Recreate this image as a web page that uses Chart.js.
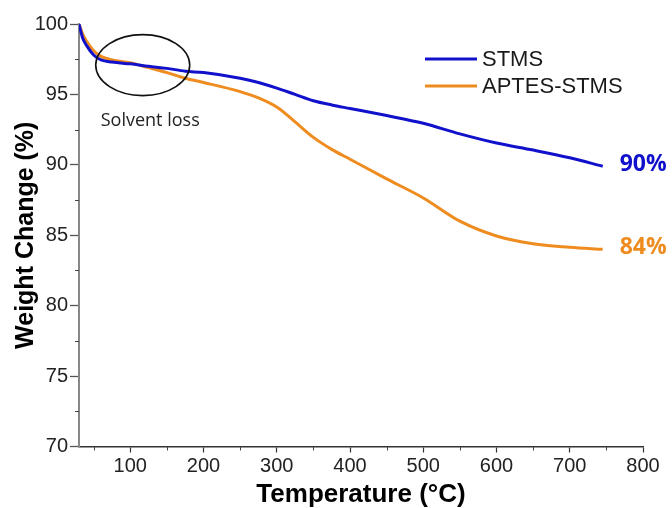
<!DOCTYPE html>
<html>
<head>
<meta charset="utf-8">
<script src="https://cdn.jsdelivr.net/npm/chart.js@4.4.1/dist/chart.umd.min.js"></script>
<style>
  html, body { margin: 0; padding: 0; background: #fff; }
  #wrap { width: 672px; height: 508px; }
</style>
</head>
<body>
<div id="wrap"><canvas id="chart" width="672" height="508"></canvas></div>
<script>
// temperature (°C) at each reading
const temps = [30, 35, 40, 50, 60, 75, 100, 125, 150, 175, 200, 250, 275, 300, 325, 350, 375, 400, 450, 500, 550, 600, 650, 700, 745];
const stms = [100, 99.0, 98.5, 97.8, 97.45, 97.3, 97.17, 97.0, 96.85, 96.65, 96.55, 96.15, 95.85, 95.45, 95.0, 94.55, 94.25, 94.0, 93.5, 92.95, 92.2, 91.55, 91.05, 90.5, 89.9];
const aptesStms = [100, 99.3, 98.8, 98.1, 97.7, 97.45, 97.25, 96.9, 96.55, 96.15, 95.85, 95.2, 94.75, 94.1, 93.05, 91.95, 91.1, 90.4, 89.0, 87.65, 86.0, 84.95, 84.4, 84.15, 84.0];
const endLabels = ["90%", "84%"];

const xTicks = [100, 200, 300, 400, 500, 600, 700, 800];
const xMinorTicks = [50, 150, 250, 350, 450, 550, 650, 750];
const yTicks = [70, 75, 80, 85, 90, 95, 100];
const yMinorTicks = [72.5, 77.5, 82.5, 87.5, 92.5, 97.5];

// circled region note
const noteCenter = { x: 117, y: 97.08 };
const noteText = "Solvent loss";

const BLUE = "#1111cc";
const ORANGE = "#ef8c20";
const AXIS_FONT = "'Liberation Sans', Arial, sans-serif";

const toPoints = (ys) => temps.map((t, i) => ({ x: t, y: ys[i] }));

const extras = {
  id: "extras",
  afterDraw(chart) {
    const { ctx, scales: { x, y } } = chart;
    ctx.save();

    // minor ticks
    ctx.strokeStyle = "#444";
    ctx.lineWidth = 1;
    ctx.beginPath();
    xMinorTicks.forEach((v) => {
      const px = Math.round(x.getPixelForValue(v)) + 0.5;
      ctx.moveTo(px, y.bottom);
      ctx.lineTo(px, y.bottom + 4);
    });
    yMinorTicks.forEach((v) => {
      const py = Math.round(y.getPixelForValue(v)) + 0.5;
      ctx.moveTo(x.left, py);
      ctx.lineTo(x.left - 4, py);
    });
    ctx.stroke();

    // ellipse + note
    const cx = x.getPixelForValue(noteCenter.x);
    const cy = y.getPixelForValue(noteCenter.y);
    ctx.strokeStyle = "#111";
    ctx.lineWidth = 1.6;
    ctx.beginPath();
    ctx.ellipse(cx, cy, 47, 30.5, 0, 0, Math.PI * 2);
    ctx.stroke();
    ctx.fillStyle = "#222";
    ctx.font = "18px 'Open Sans', sans-serif";
    ctx.textBaseline = "middle";
    ctx.textAlign = "left";
    ctx.fillText(noteText, cx - 42, cy + 55.5);

    // legend
    ctx.font = "22px " + AXIS_FONT;
    chart.data.datasets.forEach((ds, i) => {
      const ly = 59 + i * 27;
      ctx.strokeStyle = ds.borderColor;
      ctx.lineWidth = 3;
      ctx.beginPath();
      ctx.moveTo(425, ly);
      ctx.lineTo(477, ly);
      ctx.stroke();
      ctx.fillStyle = "#1a1a1a";
      ctx.fillText(ds.label, 482, ly + 1);
    });

    // end-of-curve labels
    ctx.font = "bold 23px 'Open Sans', sans-serif";
    chart.data.datasets.forEach((ds, i) => {
      const last = ds.data[ds.data.length - 1];
      ctx.fillStyle = ds.borderColor;
      ctx.fillText(endLabels[i], x.getPixelForValue(last.x) + 17, y.getPixelForValue(last.y) - 2);
    });

    ctx.restore();
  }
};

new Chart(document.getElementById("chart"), {
  type: "line",
  data: {
    datasets: [
      {
        label: "STMS",
        data: toPoints(stms),
        borderColor: BLUE,
        borderWidth: 3,
        pointRadius: 0,
        cubicInterpolationMode: "monotone",
        fill: false
      },
      {
        label: "APTES-STMS",
        data: toPoints(aptesStms),
        borderColor: ORANGE,
        borderWidth: 3,
        pointRadius: 0,
        cubicInterpolationMode: "monotone",
        fill: false
      }
    ]
  },
  options: {
    responsive: false,
    devicePixelRatio: 1,
    animation: false,
    layout: { padding: { top: 24, right: 29, bottom: 0, left: 0 } },
    plugins: {
      legend: { display: false },
      tooltip: { enabled: false }
    },
    scales: {
      x: {
        type: "linear",
        min: 30,
        max: 800,
        afterBuildTicks: (scale) => { scale.ticks = xTicks.map((v) => ({ value: v })); },
        afterFit: (scale) => { scale.height = 61.5; },
        border: { color: "#333", width: 1.5 },
        grid: { drawOnChartArea: false, tickLength: 6, color: "#333", tickWidth: 1.2 },
        ticks: { color: "#222", padding: 2, maxRotation: 0, font: { family: AXIS_FONT, size: 20 } },
        title: {
          display: true,
          text: "Temperature (°C)",
          color: "#000",
          padding: { top: 0, bottom: 0 },
          font: { family: AXIS_FONT, size: 26, weight: "bold", lineHeight: 1 }
        }
      },
      y: {
        min: 70,
        max: 100,
        afterBuildTicks: (scale) => { scale.ticks = yTicks.map((v) => ({ value: v })); },
        afterFit: (scale) => { scale.width = 79; },
        border: { color: "#888", width: 2 },
        grid: { drawOnChartArea: false, tickLength: 9, color: "#555", tickWidth: 1.3 },
        ticks: { color: "#222", padding: 2, font: { family: AXIS_FONT, size: 20 } },
        title: {
          display: true,
          text: "Weight Change (%)",
          color: "#000",
          padding: { top: 14, bottom: 0 },
          font: { family: AXIS_FONT, size: 25, weight: "bold", lineHeight: 1 }
        }
      }
    }
  },
  plugins: [extras]
});
</script>
</body>
</html>
